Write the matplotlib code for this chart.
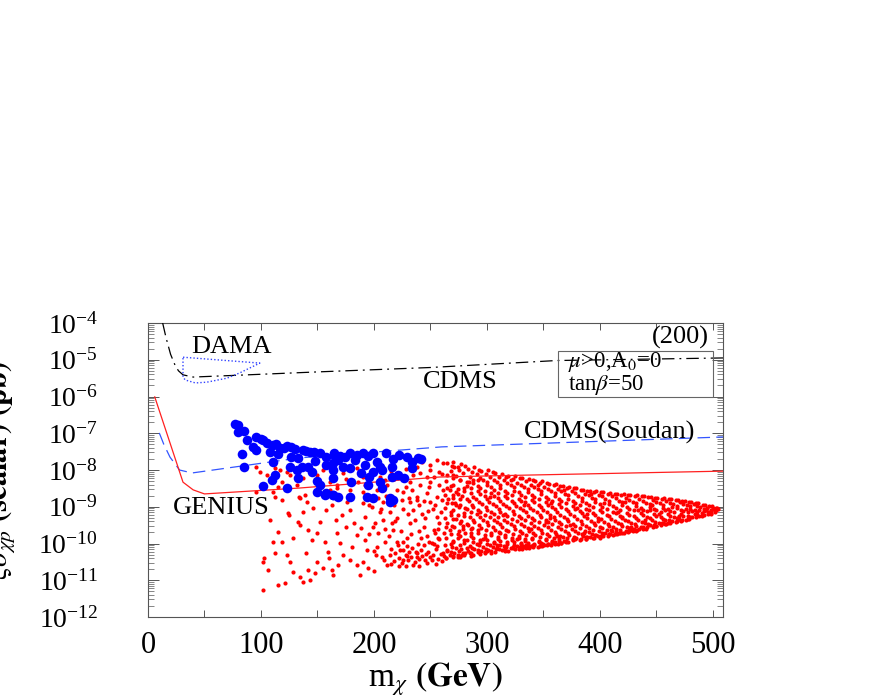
import numpy as np
import matplotlib
matplotlib.use("Agg")
import matplotlib.pyplot as plt
from matplotlib.patches import Rectangle
from matplotlib.ticker import MultipleLocator, LogLocator, LogFormatterMathtext, NullFormatter

plt.rcParams['font.family'] = 'serif'
plt.rcParams['font.serif'] = ['Liberation Serif', 'DejaVu Serif']
plt.rcParams['mathtext.fontset'] = 'stix'

# limit curves: m_chi (GeV) and log10(sigma / pb)
cdms_m = [13, 16, 20, 24, 27, 31, 40, 80, 150, 250, 362, 509]
cdms_log = [-4.0, -4.4, -4.85, -5.15, -5.3, -5.41, -5.47, -5.42, -5.33, -5.21, -5.02, -4.95]

dama_m = [31, 99, 81, 70, 52, 42, 33, 31, 31]
dama_log = [-4.93, -5.09, -5.36, -5.50, -5.61, -5.63, -5.55, -5.47, -4.93]

soudan_m = [10, 14, 19.5, 28, 39, 134, 260, 509]
soudan_log = [-6.99, -7.3, -7.65, -8.0, -8.08, -7.67, -7.37, -7.10]

genius_m = [6, 31, 40, 50, 134, 258, 332, 509]
genius_log = [-6.01, -8.33, -8.54, -8.65, -8.49, -8.19, -8.14, -8.03]

# model points (m_chi, log10 sigma)
blue_pts = [(77, -6.75), (80, -6.78), (85, -6.94), (80, -6.97), (96, -7.10), (102, -7.18), (88, -7.18),
            (93, -7.37), (105, -7.27), (111, -7.32), (117, -7.40), (127, -7.37), (137, -7.46), (143, -7.51),
            (152, -7.54), (158, -7.65), (165, -7.59), (96, -7.46), (108, -7.51), (115, -7.56), (83, -7.56),
            (111, -7.78), (133, -7.67), (148, -7.76), (126, -7.92), (136, -7.92), (142, -7.92), (85, -7.92),
            (158, -7.86), (164, -7.81), (132, -8.00), (112, -8.14), (145, -8.05), (133, -8.22), (110, -8.27),
            (150, -8.30), (152, -8.41), (102, -8.44), (123, -8.49), (150, -8.60), (157, -8.68), (164, -8.68),
            (120, -7.40), (127, -7.65), (165, -7.54), (174, -7.65), (179, -7.54), (190, -7.54), (199, -7.54),
            (211, -7.54), (229, -7.65), (239, -7.67), (168, -7.73), (183, -7.73), (203, -7.78), (217, -7.70),
            (234, -7.78), (173, -7.92), (179, -7.95), (192, -7.86), (205, -7.92), (216, -7.92), (164, -8.00),
            (199, -8.05), (207, -8.00), (234, -7.95), (189, -8.08), (196, -8.19), (216, -8.19), (221, -8.14),
            (227, -8.22), (164, -8.22), (180, -8.33), (205, -8.33), (195, -8.41), (207, -8.49), (164, -8.68),
            (179, -8.73), (194, -8.73), (199, -8.76), (214, -8.76), (214, -8.87), (168, -8.73), (100, -7.15),
            (113, -7.28), (123, -7.35), (130, -7.42), (140, -7.48), (147, -7.50), (170, -7.62), (185, -7.60),
            (195, -7.62), (222, -7.60), (242, -7.70), (158, -8.62), (217, -8.82)]

red_pts = [(102, -11.27), (115, -11.13), (103, -10.39), (102, -10.50), (106, -10.72), (112, -10.26), (111, -9.96),
           (115, -9.69), (119, -9.96), (125, -9.22), (133, -9.41), (135, -9.50), (123, -10.31), (126, -10.50),
           (121, -11.07), (128, -10.78), (135, -10.91), (137, -11.05), (142, -10.72), (143, -10.99), (148, -10.80),
           (150, -10.50), (145, -9.90), (142, -9.63), (137, -9.14), (135, -8.76), (141, -8.87), (146, -9.03),
           (152, -9.41), (157, -9.96), (159, -10.23), (155, -10.67), (163, -10.72), (164, -10.86), (168, -10.59),
           (173, -10.31), (170, -9.99), (167, -9.71), (166, -9.36), (172, -9.22), (163, -8.95), (158, -9.09),
           (179, -9.09), (182, -9.44), (185, -9.77), (181, -10.10), (179, -10.45), (185, -10.59), (190, -10.50),
           (195, -10.67), (194, -10.18), (192, -9.90), (189, -9.58), (192, -9.28), (198, -9.01), (201, -9.44),
           (204, -9.71), (203, -10.10), (207, -10.37), (212, -10.59), (208, -9.36), (214, -9.14), (217, -9.63),
           (220, -9.96), (223, -10.18), (226, -10.45), (229, -9.85), (232, -9.44), (235, -9.09), (238, -8.82),
           (238, -10.37), (242, -10.18), (247, -10.53), (251, -9.99), (254, -9.71), (256, -9.28), (260, -8.82),
           (261, -10.26), (264, -10.39), (264, -9.55),
           (215, -10.55), (218, -10.48), (222, -10.40), (225, -10.52), (228, -10.30), (230, -10.46), (233, -10.38),
           (236, -10.50), (238, -10.25), (240, -10.42), (243, -10.33), (245, -10.45), (248, -10.22), (250, -10.38),
           (252, -10.30), (255, -10.15), (257, -10.42), (259, -10.28), (262, -10.35), (265, -10.20), (219, -10.25),
           (226, -10.18), (234, -10.12), (244, -10.05), (253, -10.02), (258, -9.88), (263, -10.05), (247, -9.80),
           (239, -10.00), (229, -10.08),
           (96, -7.92), (99, -8.05), (105, -8.14), (112, -7.95), (117, -8.00), (123, -8.05), (126, -8.14),
           (119, -8.33), (115, -8.46), (111, -8.60), (96, -8.60), (112, -8.73), (119, -8.82), (134, -8.73),
           (139, -8.68), (132, -8.41), (137, -8.22), (150, -8.14), (155, -8.00), (152, -8.41), (161, -8.33),
           (165, -8.19), (161, -8.54), (167, -8.49), (235, -7.81), (238, -7.92), (243, -7.78), (250, -7.86),
           (256, -7.73), (261, -7.81), (270, -7.78), (274, -7.92), (250, -8.00), (241, -8.08), (235, -8.14),
           (247, -8.19), (258, -8.05), (265, -8.14), (270, -8.22), (232, -8.33), (241, -8.41), (250, -8.33),
           (258, -8.41), (265, -8.49), (234, -8.54), (238, -8.73), (247, -8.62), (256, -8.73), (263, -8.68),
           (270, -8.76), (273, -8.60), (226, -8.60), (225, -8.82), (212, -8.41), (210, -8.27), (192, -8.41),
           (186, -8.33), (173, -8.08), (167, -8.41), (179, -8.54), (190, -8.60), (203, -8.54), (220, -8.54),
           (176, -8.87), (190, -8.90), (208, -8.87), (232, -8.87), (250, -8.87), (265, -8.90), (273, -8.95),
           (124, -9.17), (185, -7.95), (198, -8.10), (215, -8.02), (228, -7.98), (205, -8.20), (190, -8.18),
           (175, -8.25), (108, -9.35), (128, -9.85), (140, -10.25), (150, -9.70), (160, -10.40), (175, -9.55),
           (188, -10.85), (200, -10.75), (210, -9.95), (215, -10.15), (228, -10.60), (240, -9.65), (245, -9.30),
           (252, -9.05), (258, -9.45), (230, -9.20), (220, -9.30), (196, -9.75), (210, -9.60), (240, -10.62),
           (255, -10.55),
           # filling 195-265 GeV
           (196, -8.95), (199, -9.55), (202, -10.30), (205, -9.15), (209, -10.45), (211, -8.70), (213, -9.80),
           (216, -9.45), (218, -8.95), (221, -10.05), (224, -9.65), (226, -9.05), (229, -10.35), (231, -8.75),
           (233, -9.75), (236, -9.35), (237, -10.22), (240, -8.95), (242, -9.85), (244, -9.55), (246, -10.28),
           (248, -9.12), (249, -8.45), (251, -10.45), (253, -9.62), (254, -8.95), (256, -10.08), (257, -9.85),
           (259, -9.15), (260, -10.48), (261, -8.55), (262, -9.70), (263, -9.30), (244, -8.85), (228, -8.45),
           (218, -8.25), (253, -8.20), (260, -8.10), (206, -9.05), (214, -10.30), (222, -10.60), (235, -10.58),
           (243, -9.20), (249, -9.95), (257, -9.60), (231, -10.22), (219, -9.40), (200, -10.20), (204, -8.75),
           (226, -9.95),
           # dense cone, 265-505 GeV
           (265, -7.80), (268, -8.02), (264, -8.31), (267, -8.55), (266, -8.78), (263, -9.02), (268, -9.21),
           (265, -9.44), (267, -9.63), (264, -9.85), (268, -10.02), (265, -10.18), (267, -10.31), (264, -10.40),
           (271, -7.92), (273, -8.15), (270, -8.40), (274, -8.66), (272, -8.90), (270, -9.10), (273, -9.33),
           (271, -9.55), (274, -9.74), (270, -9.96), (273, -10.12), (271, -10.25), (274, -10.36),
           (277, -7.84), (279, -8.08), (276, -8.27), (280, -8.48), (278, -8.71), (276, -8.95), (280, -9.16),
           (277, -9.38), (279, -9.60), (276, -9.80), (280, -9.98), (277, -10.14), (279, -10.27), (276, -10.35),
           (283, -7.97), (285, -8.20), (282, -8.44), (286, -8.62), (284, -8.85), (282, -9.06), (285, -9.27),
           (283, -9.49), (286, -9.70), (282, -9.90), (285, -10.07), (283, -10.21), (286, -10.33),
           (289, -7.93), (291, -8.12), (288, -8.35), (292, -8.56), (290, -8.79), (288, -9.00), (291, -9.19),
           (289, -9.41), (292, -9.62), (288, -9.84), (291, -10.01), (289, -10.15), (292, -10.24), (288, -10.30),
           (295, -8.03), (297, -8.26), (294, -8.50), (298, -8.72), (296, -8.93), (294, -9.13), (297, -9.35),
           (295, -9.57), (298, -9.77), (294, -9.95), (297, -10.10), (295, -10.21), (298, -10.27),
           (301, -8.00), (303, -8.19), (300, -8.40), (304, -8.63), (302, -8.86), (300, -9.08), (303, -9.28),
           (301, -9.50), (304, -9.71), (300, -9.90), (303, -10.05), (301, -10.17), (304, -10.25),
           (307, -8.09), (309, -8.32), (306, -8.55), (310, -8.77), (308, -8.98), (306, -9.20), (309, -9.42),
           (307, -9.63), (310, -9.82), (306, -9.99), (309, -10.12), (307, -10.22),
           (313, -8.10), (315, -8.28), (312, -8.49), (316, -8.70), (314, -8.92), (312, -9.14), (315, -9.36),
           (313, -9.56), (316, -9.76), (312, -9.93), (315, -10.07), (313, -10.17), (316, -10.21),
           (319, -8.17), (321, -8.40), (318, -8.62), (322, -8.83), (320, -9.04), (318, -9.25), (321, -9.46),
           (319, -9.67), (322, -9.86), (318, -10.01), (321, -10.12), (319, -10.19),
           (325, -8.16), (327, -8.35), (324, -8.56), (328, -8.78), (326, -8.99), (324, -9.19), (327, -9.40),
           (325, -9.60), (328, -9.80), (324, -9.95), (327, -10.07), (325, -10.15),
           (331, -8.22), (333, -8.45), (330, -8.67), (334, -8.88), (332, -9.09), (330, -9.30), (333, -9.51),
           (331, -9.71), (334, -9.89), (330, -10.02), (333, -10.10), (331, -10.14),
           (337, -8.24), (339, -8.40), (336, -8.61), (340, -8.82), (338, -9.03), (336, -9.24), (339, -9.45),
           (337, -9.65), (340, -9.84), (336, -9.98), (339, -10.07), (337, -10.12),
           (343, -8.30), (345, -8.52), (342, -8.73), (346, -8.94), (344, -9.15), (342, -9.36), (345, -9.57),
           (343, -9.76), (346, -9.92), (342, -10.03), (345, -10.09),
           (349, -8.31), (351, -8.46), (348, -8.66), (352, -8.87), (350, -9.08), (348, -9.29), (351, -9.50),
           (349, -9.70), (352, -9.87), (348, -9.98), (351, -10.05), (349, -10.08),
           (355, -8.37), (357, -8.58), (354, -8.79), (358, -9.00), (356, -9.21), (354, -9.42), (357, -9.62),
           (355, -9.80), (358, -9.94), (354, -10.02), (357, -10.05),
           (361, -8.39), (363, -8.52), (360, -8.72), (364, -8.93), (362, -9.14), (360, -9.35), (363, -9.55),
           (361, -9.74), (364, -9.89), (360, -9.97), (363, -10.01),
           (367, -8.44), (369, -8.64), (366, -8.85), (370, -9.06), (368, -9.27), (366, -9.47), (369, -9.67),
           (367, -9.83), (370, -9.93), (366, -9.98),
           (373, -8.46), (375, -8.58), (372, -8.78), (376, -8.99), (374, -9.20), (372, -9.40), (375, -9.60),
           (373, -9.77), (376, -9.88), (372, -9.95),
           (379, -8.50), (381, -8.70), (378, -8.91), (382, -9.12), (380, -9.33), (378, -9.53), (381, -9.71),
           (379, -9.84), (382, -9.91),
           (385, -8.53), (387, -8.64), (384, -8.84), (388, -9.05), (386, -9.26), (384, -9.46), (387, -9.65),
           (385, -9.79), (388, -9.89),
           (391, -8.56), (393, -8.75), (390, -8.96), (394, -9.17), (392, -9.38), (390, -9.57), (393, -9.73),
           (391, -9.83), (394, -9.86),
           (397, -8.58), (399, -8.68), (396, -8.88), (400, -9.09), (398, -9.30), (396, -9.50), (399, -9.67),
           (397, -9.78), (400, -9.84),
           (403, -8.60), (405, -8.79), (402, -9.00), (406, -9.21), (404, -9.41), (402, -9.59), (405, -9.72),
           (403, -9.80),
           (409, -8.62), (411, -8.72), (408, -8.92), (412, -9.13), (410, -9.33), (408, -9.52), (411, -9.66),
           (409, -9.75), (412, -9.78),
           (415, -8.64), (417, -8.83), (414, -9.04), (418, -9.25), (416, -9.45), (414, -9.61), (417, -9.71),
           (415, -9.74),
           (421, -8.66), (423, -8.76), (420, -8.96), (424, -9.16), (422, -9.36), (420, -9.53), (423, -9.65),
           (421, -9.71),
           (427, -8.67), (429, -8.86), (426, -9.06), (430, -9.26), (428, -9.45), (426, -9.59), (429, -9.67),
           (433, -8.69), (435, -8.79), (432, -8.98), (436, -9.18), (434, -9.37), (432, -9.52), (435, -9.61),
           (433, -9.64),
           (439, -8.71), (441, -8.89), (438, -9.08), (442, -9.28), (440, -9.45), (438, -9.56), (441, -9.60),
           (445, -8.73), (447, -8.82), (444, -9.00), (448, -9.19), (446, -9.37), (444, -9.49), (447, -9.55),
           (451, -8.75), (453, -8.91), (450, -9.10), (454, -9.29), (452, -9.43), (450, -9.51),
           (457, -8.77), (459, -8.85), (456, -9.02), (460, -9.20), (458, -9.35), (456, -9.44), (459, -9.48),
           (463, -8.79), (465, -8.93), (462, -9.11), (466, -9.28), (464, -9.39), (462, -9.44),
           (469, -8.81), (471, -8.88), (468, -9.04), (472, -9.20), (470, -9.32), (468, -9.39),
           (475, -8.83), (477, -8.96), (474, -9.12), (478, -9.26), (476, -9.35),
           (481, -8.86), (483, -8.92), (480, -9.06), (484, -9.20), (482, -9.29),
           (487, -8.89), (489, -9.00), (486, -9.13), (490, -9.24),
           (493, -8.94), (495, -9.03), (492, -9.12), (496, -9.20),
           (499, -8.99), (501, -9.06), (498, -9.12), (502, -9.08),
           (504, -9.04), (505, -9.06), (503, -9.10),
           # second pass over the cone
           (269, -7.90), (270, -8.14), (268, -8.43), (270, -8.67), (269, -8.91), (268, -9.13), (270, -9.32),
           (269, -9.53), (268, -9.75), (270, -9.93), (269, -10.10), (268, -10.24), (270, -10.38),
           (275, -8.00), (276, -8.26), (274, -8.52), (276, -8.78), (275, -9.00), (274, -9.22), (276, -9.45),
           (275, -9.66), (274, -9.86), (276, -10.05), (275, -10.20), (274, -10.31), (276, -10.38),
           (281, -7.88), (282, -8.32), (280, -8.58), (282, -8.80), (281, -9.02), (280, -9.26), (282, -9.48),
           (281, -9.70), (280, -9.91), (282, -10.11), (281, -10.25), (280, -10.32),
           (287, -8.06), (288, -8.26), (286, -8.49), (288, -8.73), (287, -8.95), (286, -9.15), (288, -9.37),
           (287, -9.58), (286, -9.79), (288, -9.96), (287, -10.12), (286, -10.27),
           (293, -8.00), (294, -8.22), (292, -8.43), (294, -8.66), (293, -8.88), (292, -9.09), (294, -9.29),
           (293, -9.50), (292, -9.70), (294, -9.90), (293, -10.05), (292, -10.18), (294, -10.28),
           (299, -8.12), (300, -8.33), (298, -8.58), (300, -8.79), (299, -9.00), (298, -9.21), (300, -9.41),
           (299, -9.63), (298, -9.84), (300, -10.00), (299, -10.14), (298, -10.24),
           (305, -8.06), (306, -8.28), (304, -8.47), (306, -8.70), (305, -8.92), (304, -9.14), (306, -9.35),
           (305, -9.56), (304, -9.77), (306, -9.95), (305, -10.10), (304, -10.20),
           (311, -8.19), (312, -8.40), (310, -8.62), (312, -8.84), (311, -9.05), (310, -9.27), (312, -9.48),
           (311, -9.69), (310, -9.88), (312, -10.04), (311, -10.16),
           (317, -8.20), (318, -8.35), (316, -8.56), (318, -8.77), (317, -8.98), (316, -9.19), (318, -9.41),
           (317, -9.62), (316, -9.81), (318, -9.97), (317, -10.10), (316, -10.18),
           (323, -8.25), (324, -8.47), (322, -8.69), (324, -8.90), (323, -9.11), (322, -9.32), (324, -9.53),
           (323, -9.73), (322, -9.91), (324, -10.04), (323, -10.13),
           (329, -8.21), (330, -8.40), (328, -8.61), (330, -8.83), (329, -9.04), (328, -9.25), (330, -9.46),
           (329, -9.66), (328, -9.84), (330, -9.99), (329, -10.09), (328, -10.15),
           (335, -8.30), (336, -8.51), (334, -8.73), (336, -8.94), (335, -9.15), (334, -9.36), (336, -9.57),
           (335, -9.77), (334, -9.94), (336, -10.05), (335, -10.12),
           (341, -8.28), (342, -8.46), (340, -8.67), (342, -8.88), (341, -9.09), (340, -9.30), (342, -9.51),
           (341, -9.71), (340, -9.88), (342, -10.01), (341, -10.09),
           (347, -8.36), (348, -8.57), (346, -8.79), (348, -9.00), (347, -9.21), (346, -9.42), (348, -9.63),
           (347, -9.81), (346, -9.95), (348, -10.04), (347, -10.08),
           (353, -8.35), (354, -8.52), (352, -8.73), (354, -8.94), (353, -9.15), (352, -9.36), (354, -9.56),
           (353, -9.75), (352, -9.90), (354, -10.00), (353, -10.05),
           (359, -8.42), (360, -8.63), (358, -8.85), (360, -9.06), (359, -9.27), (358, -9.48), (360, -9.68),
           (359, -9.85), (358, -9.96), (360, -10.02),
           (365, -8.43), (366, -8.58), (364, -8.79), (366, -9.00), (365, -9.21), (364, -9.42), (366, -9.61),
           (365, -9.79), (364, -9.92), (366, -9.98),
           (371, -8.48), (372, -8.69), (370, -8.90), (372, -9.11), (371, -9.32), (370, -9.52), (372, -9.71),
           (371, -9.86), (370, -9.95),
           (377, -8.49), (378, -8.63), (376, -8.84), (378, -9.05), (377, -9.26), (376, -9.46), (378, -9.66),
           (377, -9.81), (376, -9.91),
           (383, -8.55), (384, -8.75), (382, -8.96), (384, -9.17), (383, -9.38), (382, -9.58), (384, -9.75),
           (383, -9.87),
           (389, -8.56), (390, -8.68), (388, -8.89), (390, -9.10), (389, -9.31), (388, -9.51), (390, -9.69),
           (389, -9.81), (388, -9.87),
           (395, -8.60), (396, -8.80), (394, -9.01), (396, -9.22), (395, -9.43), (394, -9.62), (396, -9.76),
           (395, -9.84),
           (401, -8.61), (402, -8.72), (400, -8.92), (402, -9.13), (401, -9.34), (400, -9.54), (402, -9.70),
           (401, -9.79),
           (407, -8.64), (408, -8.84), (406, -9.05), (408, -9.26), (407, -9.46), (406, -9.63), (408, -9.74),
           (407, -9.79),
           (413, -8.65), (414, -8.77), (412, -8.97), (414, -9.18), (413, -9.38), (412, -9.56), (414, -9.68),
           (413, -9.75),
           (419, -8.68), (420, -8.87), (418, -9.08), (420, -9.29), (419, -9.48), (418, -9.62), (420, -9.70),
           (425, -8.69), (426, -8.81), (424, -9.01), (426, -9.21), (425, -9.40), (424, -9.56), (426, -9.66),
           (425, -9.69),
           (431, -8.71), (432, -8.90), (430, -9.10), (432, -9.30), (431, -9.48), (430, -9.60), (432, -9.65),
           (437, -8.72), (438, -8.84), (436, -9.03), (438, -9.23), (437, -9.41), (436, -9.54), (438, -9.61),
           (443, -8.74), (444, -8.93), (442, -9.12), (444, -9.31), (443, -9.47), (442, -9.56),
           (449, -8.76), (450, -8.86), (448, -9.05), (450, -9.24), (449, -9.41), (448, -9.50), (450, -9.53),
           (455, -8.78), (456, -8.95), (454, -9.14), (456, -9.32), (455, -9.44), (454, -9.49),
           (461, -8.80), (462, -8.89), (460, -9.07), (462, -9.24), (461, -9.37), (460, -9.44),
           (467, -8.82), (468, -8.97), (466, -9.15), (468, -9.31), (467, -9.41),
           (473, -8.84), (474, -8.92), (472, -9.08), (474, -9.24), (473, -9.35), (472, -9.38),
           (479, -8.86), (480, -8.99), (478, -9.15), (480, -9.28), (479, -9.33),
           (485, -8.90), (486, -8.97), (484, -9.10), (486, -9.22), (485, -9.28),
           (491, -8.94), (492, -9.05), (490, -9.16), (492, -9.23),
           (497, -8.98), (498, -9.08), (496, -9.15), (498, -9.19),
           (503, -9.02), (503, -9.07), (502, -9.13),
           # crowded lower edge and stray points
           (270, -10.33), (278, -10.30), (285, -10.26), (293, -10.22), (300, -10.20), (308, -10.16),
           (316, -10.13), (323, -10.10), (332, -10.07), (341, -10.04), (350, -10.00), (358, -9.98),
           (368, -9.94), (378, -9.88), (388, -9.83), (398, -9.79), (408, -9.74), (418, -9.70), (428, -9.64),
           (438, -9.58), (448, -9.52), (458, -9.46), (468, -9.40), (478, -9.33), (488, -9.26), (498, -9.17),
           (279, -9.52), (284, -8.33), (297, -9.88), (303, -8.73), (309, -10.05), (314, -9.23), (321, -8.28),
           (327, -9.87), (333, -8.96), (339, -9.60), (345, -8.40), (352, -9.42), (357, -8.90), (362, -9.80),
           (368, -8.55), (374, -9.50), (380, -9.02), (386, -9.72), (392, -8.66), (398, -9.40), (404, -8.90),
           (410, -9.62), (416, -9.15), (422, -8.86), (428, -9.55), (434, -9.08), (440, -9.35), (446, -8.95),
           (452, -9.20), (458, -9.10), (464, -9.00), (470, -9.25), (476, -9.05), (482, -9.12), (488, -9.08),
           (494, -9.10), (500, -9.03), (286, -9.60), (292, -8.28), (312, -9.70), (335, -10.05), (356, -9.30),
           (389, -9.20), (420, -9.30), (444, -9.10)]

red_m, red_log = np.array(red_pts).T
blue_m, blue_log = np.array(blue_pts).T

fig = plt.figure(figsize=(8.72, 6.98), dpi=100)
ax = fig.add_axes([0.1697, 0.1160, 0.6594, 0.4212])

ax.scatter(red_m, 10**red_log, s=9, c='#ff0000', marker='o', linewidths=0, zorder=2)
ax.scatter(blue_m, 10**blue_log, s=48, c='#0000ff', marker='o', linewidths=0, zorder=4)

ax.plot(cdms_m, 10**np.array(cdms_log), color='black', lw=0.9, dashes=(10, 4, 1.5, 4), zorder=3)
ax.plot(dama_m, 10**np.array(dama_log), color='#3344ff', lw=1.0, ls=(0, (1, 1.5)), zorder=3)
ax.plot(soudan_m, 10**np.array(soudan_log), color='#3355ff', lw=0.9, dashes=(10, 5), zorder=3)
ax.plot(genius_m, 10**np.array(genius_log), color='#ff2020', lw=0.9, zorder=3)

ax.set_yscale('log')
ax.set_xlim(0, 509)
ax.set_ylim(1e-12, 1e-4)

ax.xaxis.set_major_locator(MultipleLocator(100))
ax.xaxis.set_minor_locator(MultipleLocator(50))
ax.yaxis.set_major_locator(LogLocator(base=10, numticks=20))
ax.yaxis.set_minor_locator(LogLocator(base=10, subs=np.arange(2, 10), numticks=20))
ax.yaxis.set_major_formatter(LogFormatterMathtext())
ax.yaxis.set_minor_formatter(NullFormatter())

ax.tick_params(axis='both', which='both', direction='in', top=True, right=True, colors='#555555',
               labelcolor='black')
ax.tick_params(axis='y', which='major', length=8, width=0.7, labelsize=20, pad=36)
ax.tick_params(axis='y', which='minor', length=4, width=0.5)
ax.tick_params(axis='x', which='both', length=5, width=0.7, labelsize=22, pad=10)
for sp in ax.spines.values():
    sp.set_color('#555555')
    sp.set_linewidth(0.8)

ax.text(74, 10**-4.65, 'DAMA', fontsize=19, ha='center', va='center')
ax.text(276, 10**-5.61, 'CDMS', fontsize=19, ha='center', va='center')
ax.text(409, 10**-6.99, 'CDMS(Soudan)', fontsize=19, ha='center', va='center')
ax.text(65, 10**-9.03, 'GENIUS', fontsize=19, ha='center', va='center')
ax.text(0.975, 0.95, '(200)', transform=ax.transAxes, fontsize=19, ha='right', va='center')

ax.add_patch(Rectangle((0.713, 0.748), 0.270, 0.157, transform=ax.transAxes, fill=False,
                       edgecolor='#666666', lw=0.8, zorder=5))
ax.text(0.73, 0.866, r'$\mu$>0,A$_0$=0', transform=ax.transAxes, fontsize=16.5, ha='left', va='center')
ax.text(0.73, 0.79, r'tan$\beta$=50', transform=ax.transAxes, fontsize=16.5, ha='left', va='center')

ax.set_xlabel(r'm$_\chi$ $\mathbf{(GeV)}$', fontsize=24, labelpad=0)
fig.text(18 / 872, 0.3266, r'$\xi\sigma_{\chi p}$ $\mathbf{(scalar)\ (pb)}$', rotation=90,
         fontsize=22, fontweight='bold', ha='right', va='center')

fig.savefig('out.png', dpi=100)
